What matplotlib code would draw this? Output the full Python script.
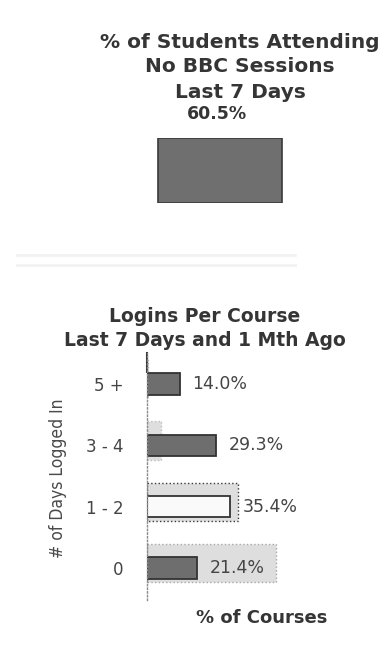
import numpy as np
import matplotlib.pyplot as plt

# single KPI bar
kpi_value = 60.5

# logins per course, % of courses
day_bins = ['5 +', '3 - 4', '1 - 2', '0']
last_7_days = [14.0, 29.3, 35.4, 21.4]
one_mth_ago = [0.5, 6.0, 38.7, 55.0]

W, H = 392, 646
fig = plt.figure(figsize=(W / 100, H / 100), dpi=100)
txt = '#353535'

def fx(px):
    return px / W

def fy(px):
    return 1 - px / H

# titles
for y, s in [(42, '% of Students Attending'), (67, 'No BBC Sessions'), (92, 'Last 7 Days')]:
    fig.text(fx(240), fy(y), s, ha='center', va='center', fontsize=14.5,
             fontweight='bold', color=txt)

# top bar
ax1 = fig.add_axes([fx(140), fy(203), fx(160), (203 - 138) / H])
ax1.bar([0], [kpi_value], width=1.55, color='#6f6f6f', edgecolor='#3a3a3a', linewidth=1.2)
ax1.set_xlim(-1, 1)
ax1.set_ylim(0, kpi_value)
ax1.axis('off')
ax1.annotate(f'{kpi_value:.1f}%', (0, kpi_value), xytext=(-2, 11), textcoords='offset points',
             ha='center', va='bottom', fontsize=12.5, fontweight='semibold', color=txt)

# faint separator lines
for y in (255, 265):
    fig.add_artist(plt.Line2D([fx(17), fx(295)], [fy(y), fy(y)], color='#f2f2f2', lw=2))

# bottom chart
fig.text(fx(205), fy(317), 'Logins Per Course', ha='center', va='center',
         fontsize=13.5, fontweight='bold', color=txt)
fig.text(fx(205), fy(341), 'Last 7 Days and 1 Mth Ago', ha='center', va='center',
         fontsize=13.5, fontweight='bold', color=txt)

ax2 = fig.add_axes([fx(147), fy(600), fx(183), (600 - 353) / H])
y = np.arange(len(day_bins))
front_fill = ['#6e6e6e', '#6e6e6e', '#fafafa', '#6e6e6e']
back_edge = ['#bdbdbd', '#bdbdbd', '#3a3a3a', '#a8a8a8']

ax2.barh(y - 0.08, one_mth_ago, height=0.62, color='#dedede', edgecolor=back_edge,
         linewidth=1.0, linestyle=':', align='center')
ax2.barh(y, last_7_days, height=0.35, color=front_fill, edgecolor='#333333',
         linewidth=1.3, align='center')

for yi, v in zip(y, last_7_days):
    ax2.annotate(f'{v:.1f}%', (v, yi), xytext=(9, 0), textcoords='offset points',
                 ha='left', va='center', fontsize=12.5, color='#454545')

ax2.set_xlim(0, 183 / 2.35)
ax2.set_ylim(3.52, -0.506)
ax2.set_yticks(y)
ax2.set_yticklabels(day_bins, fontsize=12, color='#454545')
ax2.tick_params(axis='y', length=0, pad=17)
ax2.set_xticks([])
for s in ('top', 'right', 'bottom'):
    ax2.spines[s].set_visible(False)
ax2.spines['left'].set_color('#8a8a8a')
ax2.spines['left'].set_linestyle(':')
ax2.spines['left'].set_linewidth(1.0)
ax2.plot([0, 0], [-0.506, -0.2], color='#333333', lw=1.5, clip_on=False)

fig.text(fx(58), fy(478), '# of Days Logged In', rotation=90, ha='center', va='center',
         fontsize=12.5, color='#4a4a4a', fontstretch='condensed',
         family=['Liberation Sans Narrow', 'DejaVu Sans'])
fig.text(fx(262), fy(618), '% of Courses', ha='center', va='center',
         fontsize=13, fontweight='semibold', color=txt)

fig.savefig('out.png', dpi=100)
